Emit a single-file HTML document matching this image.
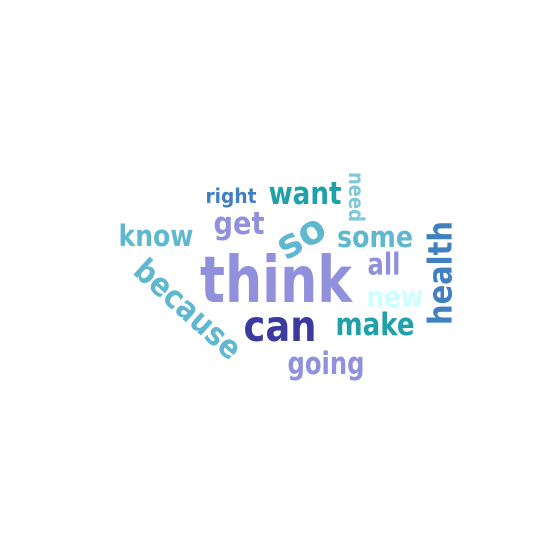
<!DOCTYPE html>
<html><head><meta charset="utf-8"><style>
html,body{margin:0;padding:0;background:#fff;}
svg{display:block;}
text{font-family:"DejaVu Sans","Liberation Sans",sans-serif;font-weight:bold;}
</style></head><body>
<svg id="cloud" width="556" height="556" viewBox="0 0 556 556"></svg>
<script>
const words = ["think","can","make","going","some","all","new","health","need","want","right","get","so","know","because"];
const sizes = [64,43,31,31,29,30,29,33,21,31,20,31,40,29,32];
const colors = ["#9090dc","#3a3aa0","#20a0a8","#9090dc","#60b8d0","#9090dc","#ccffff","#4080c0","#80c8d8","#20a0a8","#4080c0","#9090dc","#60b8d0","#60b8d0","#60b8d0"];
const cx = [276,280,375,326,375,384,395,440,356,305,231,239,301,156,188];
const cy = [281,327,325,364,237,265,297,273,197,194,196,224,237,236,309];
const widths = [152,73,79,77,76,33,57,104,50,73,51,51,50,75,132];
const rotations = [0,0,0,0,0,0,0,-90,90,0,0,0,-30,0,42];
const svg = document.getElementById('cloud');
const NS = 'http://www.w3.org/2000/svg';
for (let i = 0; i < words.length; i++) {
  const t = document.createElementNS(NS, 'text');
  
  
  t.setAttribute('x', 0);
  t.setAttribute('y', 0);
  t.setAttribute('text-anchor', 'middle');
  t.setAttribute('dominant-baseline', 'central');
  t.setAttribute('font-size', sizes[i]);
  t.setAttribute('fill', colors[i]);
  t.setAttribute('textLength', widths[i]);
  t.setAttribute('lengthAdjust', 'spacingAndGlyphs');
  t.setAttribute('transform', 'translate(' + cx[i] + ',' + cy[i] + ') rotate(' + rotations[i] + ')');
  t.textContent = words[i];
  svg.appendChild(t);
}
</script>
</body></html>
